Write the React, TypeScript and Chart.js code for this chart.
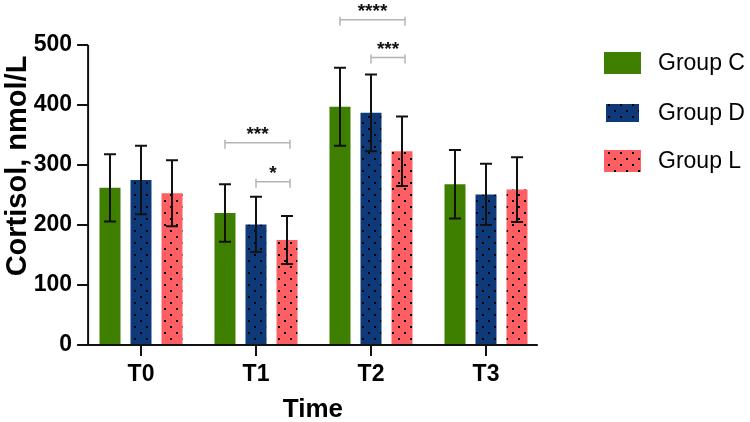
import React, { useEffect, useRef } from 'react';
import { Chart, registerables } from 'chart.js';

Chart.register(...registerables);

const timePoints = ['T0', 'T1', 'T2', 'T3'];
const groupNames = ['Group C', 'Group D', 'Group L'];
const groupCMeans = [262, 220, 397, 268];
const groupCSD = [56, 48, 65, 57];
const groupDMeans = [275, 201, 387, 251];
const groupDSD = [57, 46, 64, 51];
const groupLMeans = [253, 175, 323, 259];
const groupLSD = [55, 40, 58, 54];
const yTickValues = [0, 100, 200, 300, 400, 500];

// significance brackets
const sigTime = [1, 1, 2, 2];
const sigFrom = [0, 1, 0, 1];
const sigTo = [2, 2, 2, 2];
const sigLevel = [337, 272, 542, 479];
const sigLabel = ['***', '*', '****', '***'];

const colorC = '#3f7f00';
const colorD = '#0f3a7a';
const colorL = '#fd5f62';
const FONT = "'Liberation Sans', Arial, sans-serif";

function makeDotPattern(base: string): CanvasPattern | string {
  const c = document.createElement('canvas');
  c.width = 12;
  c.height = 12;
  const g = c.getContext('2d');
  if (!g) return base;
  g.fillStyle = base;
  g.fillRect(0, 0, 12, 12);
  g.fillStyle = '#000';
  g.fillRect(2, 2, 2, 2);
  g.fillRect(8, 8, 2, 2);
  return g.createPattern(c, 'repeat') || base;
}

export default function App() {
  const ref = useRef<HTMLCanvasElement>(null);

  useEffect(() => {
    if (!ref.current) return;
    const patD = makeDotPattern(colorD);
    const patL = makeDotPattern(colorL);
    const means = [groupCMeans, groupDMeans, groupLMeans];
    const sds = [groupCSD, groupDSD, groupLSD];
    const legendFills = [colorC, patD, patL];

    const overlay = {
      id: 'overlay',
      afterDatasetsDraw(chart: any) {
        const ctx = chart.ctx as CanvasRenderingContext2D;
        const xs = chart.scales.x;
        const ys = chart.scales.y;
        ctx.save();
        // error bars
        ctx.strokeStyle = '#111';
        ctx.lineWidth = 2;
        for (let d = 0; d < 3; d++) {
          const meta = chart.getDatasetMeta(d);
          for (let i = 0; i < timePoints.length; i++) {
            const bx = meta.data[i].x;
            const top = ys.getPixelForValue(means[d][i] + sds[d][i]);
            const bot = ys.getPixelForValue(means[d][i] - sds[d][i]);
            ctx.beginPath();
            ctx.moveTo(bx, top);
            ctx.lineTo(bx, bot);
            ctx.moveTo(bx - 6, top);
            ctx.lineTo(bx + 6, top);
            ctx.moveTo(bx - 6, bot);
            ctx.lineTo(bx + 6, bot);
            ctx.stroke();
          }
        }
        // significance brackets
        for (let k = 0; k < sigLabel.length; k++) {
          const x1 = chart.getDatasetMeta(sigFrom[k]).data[sigTime[k]].x;
          const x2 = chart.getDatasetMeta(sigTo[k]).data[sigTime[k]].x + 3;
          const yy = ys.getPixelForValue(sigLevel[k]);
          ctx.strokeStyle = '#b4b4b4';
          ctx.lineWidth = 1.5;
          ctx.beginPath();
          ctx.moveTo(x1, yy);
          ctx.lineTo(x2, yy);
          ctx.moveTo(x1, yy - 3);
          ctx.lineTo(x1, yy + 6);
          ctx.moveTo(x2, yy - 3);
          ctx.lineTo(x2, yy + 6);
          ctx.stroke();
          ctx.fillStyle = '#111';
          ctx.font = `bold 19px ${FONT}`;
          ctx.textAlign = 'center';
          ctx.textBaseline = 'alphabetic';
          ctx.fillText(sigLabel[k], (x1 + x2) / 2, yy - 3);
        }
        // axes
        const axLeft = xs.getPixelForValue(-0.46);
        const axRight = xs.getPixelForValue(3.45);
        const y0 = ys.getPixelForValue(0);
        const yTop = ys.getPixelForValue(500);
        ctx.strokeStyle = '#111';
        ctx.lineWidth = 2;
        ctx.beginPath();
        ctx.moveTo(axLeft, yTop);
        ctx.lineTo(axLeft, y0);
        ctx.moveTo(axLeft - 1, y0);
        ctx.lineTo(axRight, y0);
        for (const v of yTickValues) {
          const py = ys.getPixelForValue(v);
          ctx.moveTo(axLeft - 11, py);
          ctx.lineTo(axLeft, py);
        }
        for (let i = 0; i < timePoints.length; i++) {
          const px = xs.getPixelForValue(i);
          ctx.moveTo(px, y0);
          ctx.lineTo(px, y0 + 11);
        }
        ctx.stroke();
        // axis titles
        ctx.fillStyle = '#000';
        ctx.font = `bold 26px ${FONT}`;
        ctx.textAlign = 'center';
        ctx.textBaseline = 'middle';
        ctx.fillText('Time', (axLeft + axRight) / 2, 410);
        ctx.save();
        ctx.font = `bold 29px ${FONT}`;
        ctx.translate(18, 166);
        ctx.rotate(-Math.PI / 2);
        ctx.fillText('Cortisol, nmol/L', 0, 0);
        ctx.restore();
        // legend
        const rows = [63, 113, 161];
        ctx.font = `23px ${FONT}`;
        ctx.textAlign = 'left';
        for (let d = 0; d < 3; d++) {
          ctx.fillStyle = legendFills[d] as any;
          if (d === 1) ctx.fillRect(606, rows[d] - 9, 33, 18);
          else ctx.fillRect(604, rows[d] - 11, 37, 22);
          ctx.fillStyle = '#000';
          ctx.fillText(groupNames[d], 658, rows[d] + 1);
        }
        ctx.restore();
      },
    };

    const chart = new Chart(ref.current, {
      type: 'bar',
      data: {
        labels: timePoints,
        datasets: [
          { label: groupNames[0], data: groupCMeans, backgroundColor: colorC },
          { label: groupNames[1], data: groupDMeans, backgroundColor: patD as any },
          { label: groupNames[2], data: groupLMeans, backgroundColor: patL as any },
        ],
      },
      options: {
        responsive: false,
        animation: false,
        devicePixelRatio: 1,
        categoryPercentage: 0.809,
        barPercentage: 0.677,
        layout: { padding: { left: 0, top: 45, right: 206.5, bottom: 0 } },
        plugins: { legend: { display: false }, tooltip: { enabled: false } },
        scales: {
          x: {
            grid: { display: false, drawTicks: false },
            border: { display: false },
            ticks: { color: '#000', font: { family: FONT, size: 23, weight: 'bold' }, padding: 16 },
            afterFit: (s: any) => {
              s.height = 77;
            },
          },
          y: {
            min: 0,
            max: 500,
            grid: { display: false, drawTicks: false },
            border: { display: false },
            ticks: {
              stepSize: 100,
              color: '#000',
              font: { family: FONT, size: 23, weight: 'bold' },
              padding: 11.5,
            },
            afterFit: (s: any) => {
              s.width = 83.5;
            },
          },
        },
      } as any,
      plugins: [overlay],
    });
    return () => chart.destroy();
  }, []);

  return (
    <div style={{ position: 'fixed', left: 0, top: 0, width: 750, height: 422, background: '#fff' }}>
      <canvas ref={ref} width={750} height={422} style={{ display: 'block' }} />
    </div>
  );
}
